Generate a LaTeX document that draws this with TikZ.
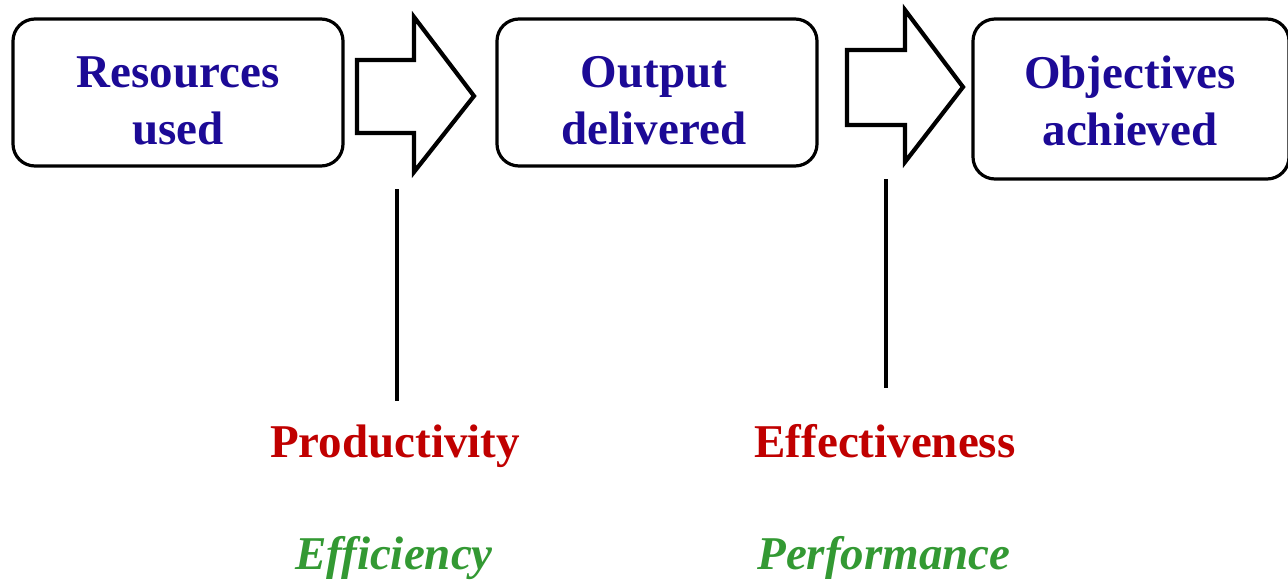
\documentclass[tikz,border=0pt]{standalone}
\usepackage{fontspec}
\setmainfont{Liberation Serif}
\definecolor{boxblue}{RGB}{28,10,150}
\definecolor{lblred}{RGB}{192,0,0}
\definecolor{lblgreen}{RGB}{51,153,51}
\tikzset{
  box/.style={draw=black, line width=3.2pt, rounded corners=22pt, fill=white, inner sep=0pt},
  boxtext/.style={text=boxblue, font=\fontsize{47}{57}\selectfont\bfseries, align=center, inner sep=0pt},
  bigarrow/.style={draw=black, line width=4.2pt, line join=miter, fill=white},
  measure/.style={draw=black, line width=4pt},
  redlbl/.style={text=lblred, font=\fontsize{47}{57}\selectfont\bfseries, inner sep=0pt, anchor=base},
  greenlbl/.style={text=lblgreen, font=\fontsize{47}{57}\selectfont\bfseries\itshape, inner sep=0pt, anchor=base},
}
\begin{document}
\begin{tikzpicture}[x=1pt, y=-1pt]
\useasboundingbox (0,0) rectangle (1288,582);
\begin{scope}
\clip (0,0) rectangle (1288,582);
% boxes
\node[box, minimum width=330pt, minimum height=147pt] (b1) at (178,92.5) {};
\node[box, minimum width=320pt, minimum height=147pt] (b2) at (657,92.5) {};
\node[box, minimum width=316pt, minimum height=160pt] (b3) at (1131,99) {};
\node[boxtext] (t1) at (178,101) {Resources\\used};
\node[boxtext] (t2) at (654,101) {Output\\delivered};
\node[boxtext] (t3) at (1130,101) {Objectives\\achieved};
% block arrows
\draw[bigarrow] (357,60) -- (414,60) -- (414,17) -- (474,96) -- (414,172) -- (414,133) -- (357,133) -- cycle;
\draw[bigarrow] (847,50) -- (905,50) -- (905,10) -- (963,87) -- (905,162) -- (905,125) -- (847,125) -- cycle;
% labels
\node[redlbl] (p) at (395,457) {Productivity};
\node[redlbl] (e) at (885,457) {Effectiveness};
\node[greenlbl] (ef) at (394,569) {Efficiency};
\node[greenlbl] (pf) at (884,569) {Performance};
% vertical lines
\coordinate (l1a) at (396.5,189);
\coordinate (l1b) at (396.5,401);
\coordinate (l2a) at (886,179);
\coordinate (l2b) at (886,388);
\draw[measure] (l1a) -- (l1b);
\draw[measure] (l2a) -- (l2b);
\end{scope}
\end{tikzpicture}
\end{document}
